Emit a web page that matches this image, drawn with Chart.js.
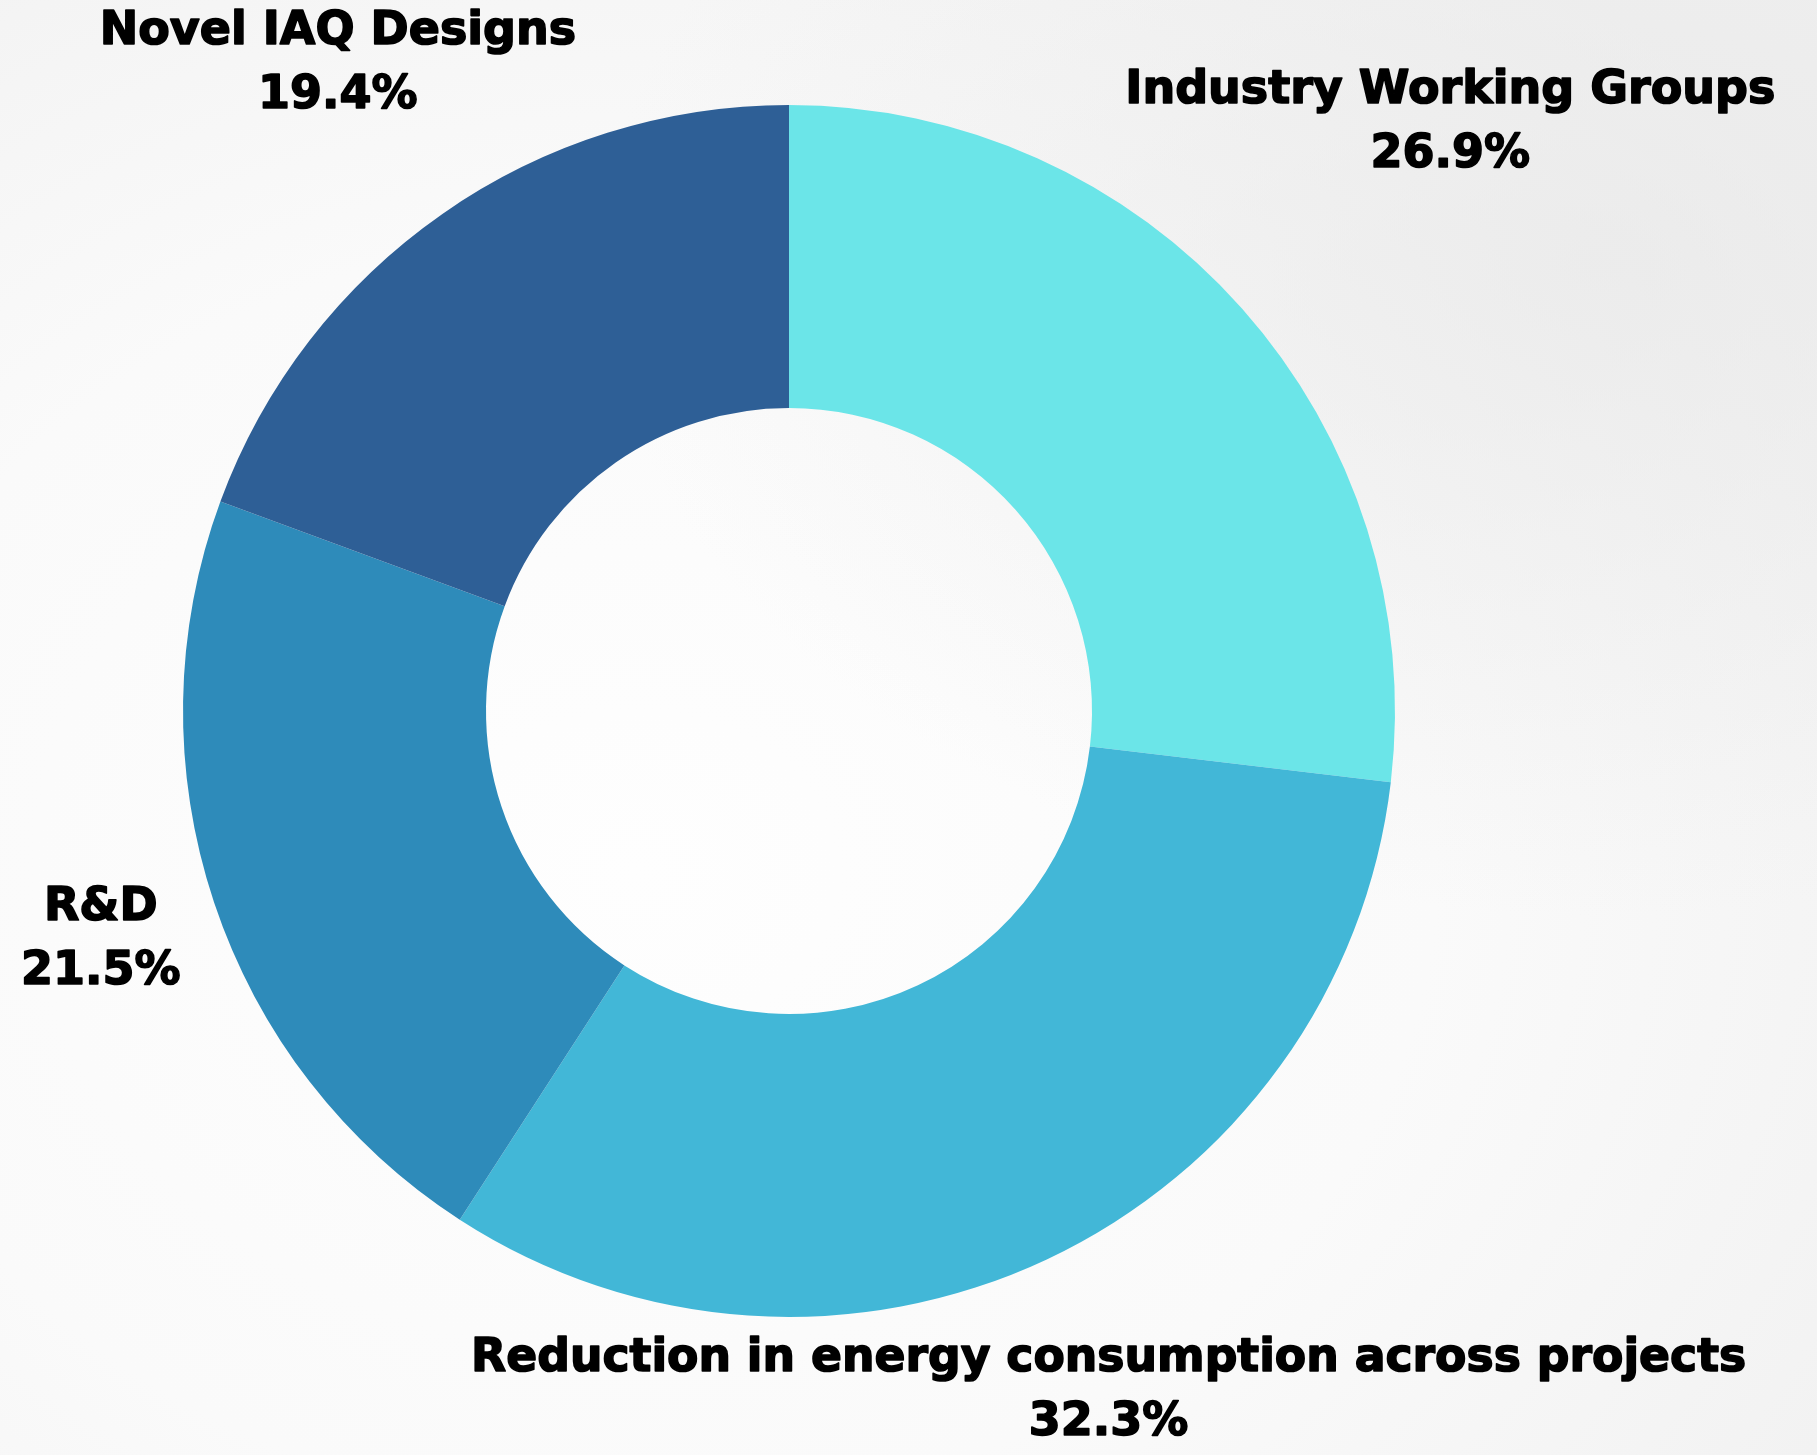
<!DOCTYPE html>
<html>
<head>
<meta charset="utf-8">
<title>Donut</title>
<script src="https://cdn.jsdelivr.net/npm/chart.js@4"></script>
<style>
    html, body {
        margin: 0;
        padding: 0;
    }
    body {
        width: 1817px;
        height: 1455px;
        overflow: hidden;
        background:
            radial-gradient(ellipse 55% 45% at 88% 18%, rgba(232,232,232,0.7) 0%, rgba(232,232,232,0) 100%),
            radial-gradient(ellipse 80% 80% at 35% 60%, #fefefe 0%, #fafafa 55%, #f1f1f1 100%);
    }
    .wrap {
        position: relative;
        width: 1817px;
        height: 1455px;
    }
</style>
</head>
<body>
<div class="wrap">
    <canvas id="shareChart"></canvas>
</div>

<script>
/* ======================================
        Data
====================================== */

const categories = [
    "Industry Working Groups",
    "Reduction in energy consumption across projects",
    "R&D",
    "Novel IAQ Designs"
];

const shares = [26.9, 32.3, 21.5, 19.4];

const sliceColors = ["#6be5e8", "#42b7d7", "#2e8bba", "#2e5f96"];

/* ======================================
        Outside labels
====================================== */

const outsideLabels = {

    id: "outsideLabels",

    afterDraw(chart) {

        const ctx = chart.ctx;
        const meta = chart.getDatasetMeta(0);
        const W = chart.width;
        const H = chart.height;

        const fontSize = 46;
        const lineGap = 64;
        const padX = 21;
        const padY = 0;

        ctx.save();
        ctx.font = "bold " + fontSize + "px 'DejaVu Sans'";
        ctx.fillStyle = "#000";
        ctx.strokeStyle = "#000";
        ctx.lineWidth = 1.6;
        ctx.lineJoin = "round";
        ctx.textAlign = "center";
        ctx.textBaseline = "middle";

        meta.data.forEach((arc, i) => {

            const lines = [categories[i], shares[i].toFixed(1) + "%"];
            const mid = (arc.startAngle + arc.endAngle) / 2;
            const dx = Math.cos(mid);
            const dy = Math.sin(mid);

            const w = Math.max(...lines.map(t => ctx.measureText(t).width));
            const hw = Math.min(w / 2, 100);
            const hh = lineGap;

            let r = arc.outerRadius * 1.46;

            // keep the block on the canvas, moving it in along its ray
            const cx0 = arc.x + r * dx;
            const cy0 = arc.y + r * dy;

            if (cy0 - hh < padY) r = Math.min(r, (padY + hh - arc.y) / dy);
            if (cy0 + hh > H - padY) r = Math.min(r, (H - padY - hh - arc.y) / dy);
            if (cx0 - hw < padX) r = Math.min(r, (padX + hw - arc.x) / dx);
            if (cx0 + hw > W - padX) r = Math.min(r, (W - padX - hw - arc.x) / dx);

            const cx = arc.x + r * dx;
            const cy = arc.y + r * dy;

            const maxW = 2 * Math.min(cx, W - cx) * 0.9;

            lines.forEach((t, k) => {
                const ty = cy + (k - 0.5) * lineGap;
                const tw = ctx.measureText(t).width;
                if (tw > maxW) {
                    ctx.fillText(t, cx, ty, maxW);
                    ctx.strokeText(t, cx, ty, maxW);
                } else {
                    ctx.fillText(t, cx, ty);
                    ctx.strokeText(t, cx, ty);
                }
            });

        });

        ctx.restore();

    }

};

/* ======================================
        Doughnut
====================================== */

const shareCtx = document.getElementById("shareChart");

new Chart(shareCtx, {

    type: "doughnut",

    data: {
        labels: categories,
        datasets: [{
            data: shares,
            backgroundColor: sliceColors,
            borderWidth: 0
        }]
    },

    options: {
        responsive: true,
        maintainAspectRatio: false,
        animation: false,
        cutout: "50%",
        layout: {
            padding: {
                top: 105,
                bottom: 138,
                left: 150,
                right: 389
            }
        },
        plugins: {
            legend: { display: false },
            tooltip: { enabled: false }
        }
    },

    plugins: [outsideLabels]

});
</script>
</body>
</html>
